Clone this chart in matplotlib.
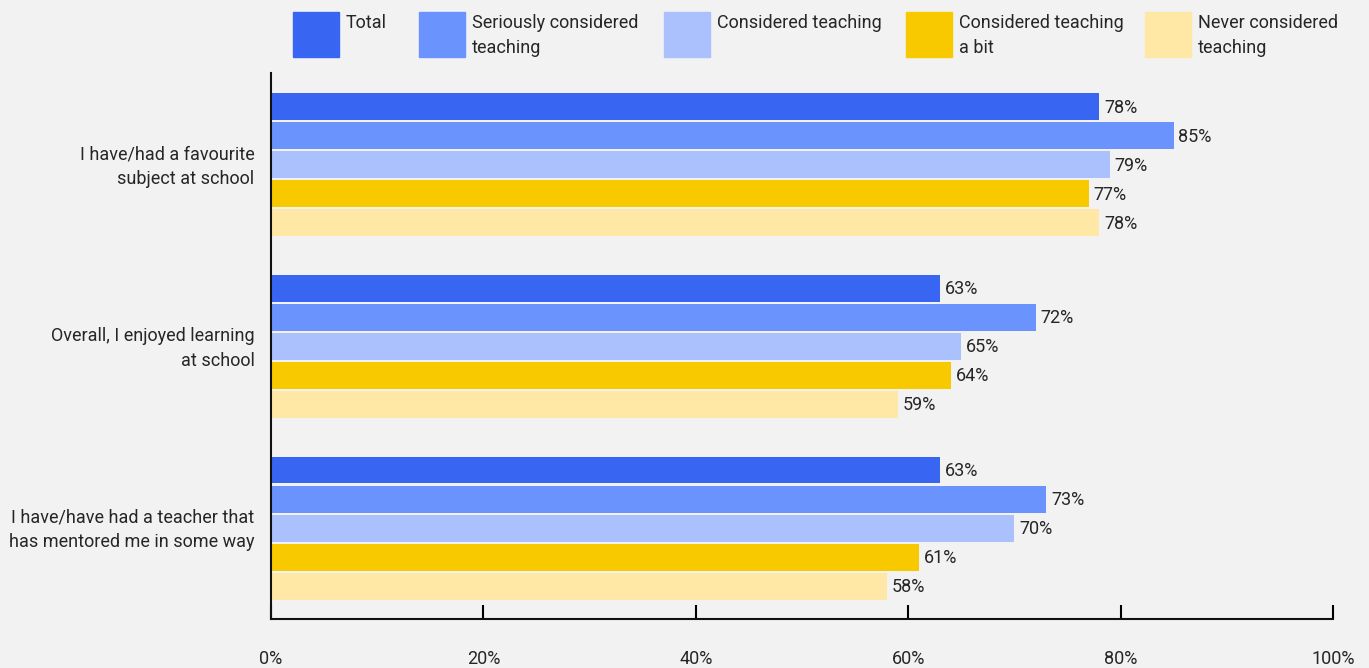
import matplotlib.pyplot as plt
from matplotlib.patches import Rectangle

plt.rcParams['font.family'] = ['Roboto', 'DejaVu Sans']

# survey statements and the answer groups
statements = ['I have/had a favourite\nsubject at school',
              'Overall, I enjoyed learning\nat school',
              'I have/have had a teacher that\nhas mentored me in some way']
groups = ['Total', 'Seriously considered\nteaching', 'Considered teaching',
          'Considered teaching\na bit', 'Never considered\nteaching']
colors = ['#3866F2', '#6A93FD', '#AAC1FD', '#F9C900', '#FFE7A6']

total = [78, 63, 63]
seriously = [85, 72, 73]
considered = [79, 65, 70]
a_bit = [77, 64, 61]
never = [78, 59, 58]
series = [total, seriously, considered, a_bit, never]

bg = '#F2F2F2'
txt = '#262626'
fs = 13
fig = plt.figure(figsize=(13.69, 6.68), dpi=100, facecolor=bg)
ax = fig.add_axes([0.198, 0.0734, 0.7757, 0.8173], facecolor=bg)

step = 0.16
height = 0.148
for j, vals in enumerate(series):
    ys = [i + (j - 2) * step for i in range(len(statements))]
    ax.barh(ys, vals, height=height, color=colors[j])
    for y, v in zip(ys, vals):
        ax.text(v + 0.45, y + 0.005, f'{v}%', va='center', ha='left',
                fontsize=fs, color=txt)

ax.set_xlim(0, 100)
ax.set_ylim(2.5, -0.505)
ax.set_xticks([0, 20, 40, 60, 80, 100])
ax.set_xticklabels(['0%', '20%', '40%', '60%', '80%', '100%'])
ax.set_yticks([i - 0.02 for i in range(len(statements))])
ax.set_yticklabels(statements, fontsize=fs, color=txt, linespacing=1.5)
ax.tick_params(axis='y', length=0, pad=12)
ax.tick_params(axis='x', direction='in', length=10, width=1.5, pad=22,
               labelsize=fs, labelcolor=txt)
for s in ['top', 'right']:
    ax.spines[s].set_visible(False)
for s in ['left', 'bottom']:
    ax.spines[s].set_linewidth(1.5)
    ax.spines[s].set_color('#111111')

# legend across the top
W, H = 1369, 668
box_x = [293, 419, 664, 906, 1145]
for x, name, c in zip(box_x, groups, colors):
    fig.add_artist(Rectangle((x / W, 1 - 57 / H), 46 / W, 45 / H,
                             transform=fig.transFigure, color=c))
    fig.text((x + 53) / W, 1 - 14 / H, name, ha='left', va='top',
             fontsize=fs, color=txt, linespacing=1.5)

fig.savefig('out.png', dpi=100, facecolor=bg)
